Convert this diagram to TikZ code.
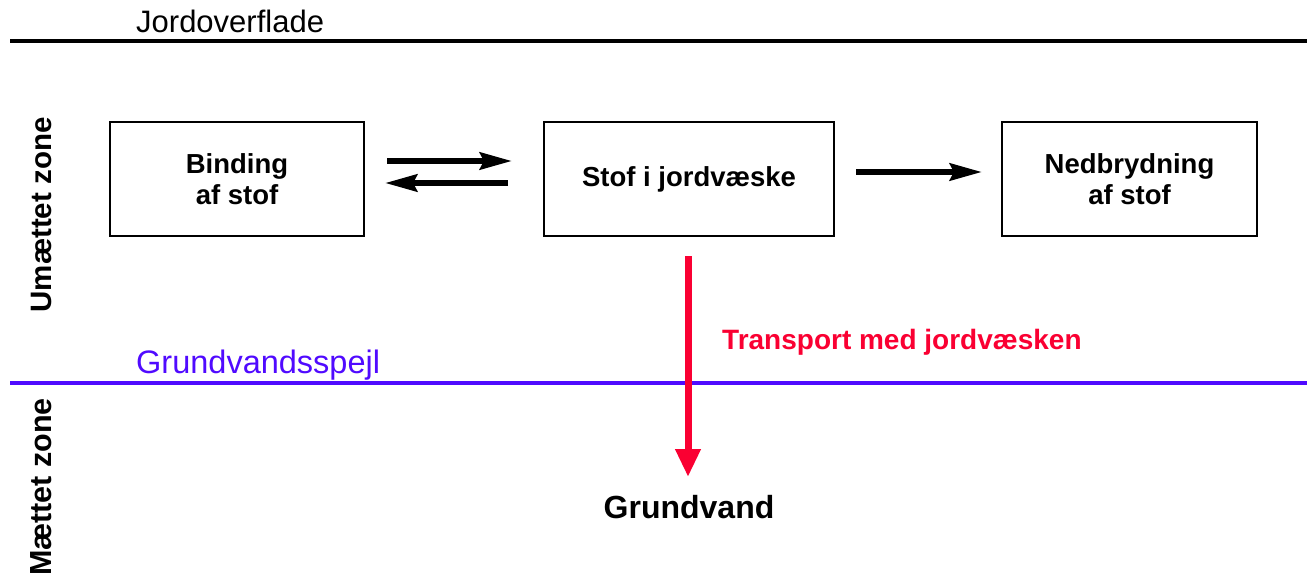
\documentclass[tikz,border=0pt]{standalone}
\usepackage{fontspec}
\setmainfont{Liberation Sans}
\usetikzlibrary{arrows.meta}
\definecolor{tred}{RGB}{250,0,50}
\definecolor{tblue}{RGB}{80,10,255}
\begin{document}
\begin{tikzpicture}[x=1pt,y=-1pt,
  box/.style={draw,line width=1.2pt,minimum width=#1,minimum height=114pt,inner sep=0pt,align=center,font=\fontsize{27.5}{31}\selectfont\bfseries},
  fatarrow/.style={line width=6pt,-{Stealth[length=32pt,width=17pt,inset=4pt]}},
  redarrow/.style={tred,line width=7pt,-{Triangle[length=28pt,width=24pt]}},
  lbl/.style={inner sep=0pt,anchor=base west}]
\useasboundingbox (0,0) rectangle (1315,576);
\coordinate (s1) at (10,41); \coordinate (s2) at (1307,41);
\draw[line width=4.5pt] (s1) -- (s2);
\coordinate (g1) at (10,383); \coordinate (g2) at (1307,383);
\draw[tblue,line width=4pt] (g1) -- (g2);
\node[lbl,font=\fontsize{31}{35}\selectfont] (jord) at (136,32) {Jordoverflade};
\node[lbl,font=\fontsize{32.5}{36}\selectfont,text=tblue] (gvs) at (136,373) {Grundvandsspejl};
\node[box=254pt] (bind) at (237,179) {Binding\\af stof};
\node[box=290pt] (stof) at (689,179) {Stof i jordvæske};
\node[box=255pt] (ned) at (1129.5,179) {Nedbrydning\\af stof};
\coordinate (a1s) at (387,161); \coordinate (a1e) at (512,161);
\coordinate (a2s) at (508,183); \coordinate (a2e) at (385,183);
\draw[fatarrow] (a1s) -- (a1e);
\draw[fatarrow] (a2s) -- (a2e);
\coordinate (a3s) at (856,172); \coordinate (a3e) at (982,172);
\draw[fatarrow] (a3s) -- (a3e);
\node[inner sep=0pt,anchor=base,font=\fontsize{32}{36}\selectfont\bfseries] (gv) at (689,518) {Grundvand};
\coordinate (r1) at (688,256); \coordinate (r2) at (688,477);
\draw[redarrow] (r1) -- (r2);
\node[lbl,font=\fontsize{28}{32}\selectfont\bfseries,text=tred] (tr) at (722,349) {Transport med jordvæsken};
\node[rotate=90,inner sep=0pt,font=\fontsize{29.5}{33}\selectfont\bfseries] (um) at (41,215) {Umættet zone};
\node[rotate=90,inner sep=0pt,font=\fontsize{30.5}{33}\selectfont\bfseries] (mz) at (41,487) {Mættet zone};
\end{tikzpicture}
\end{document}
